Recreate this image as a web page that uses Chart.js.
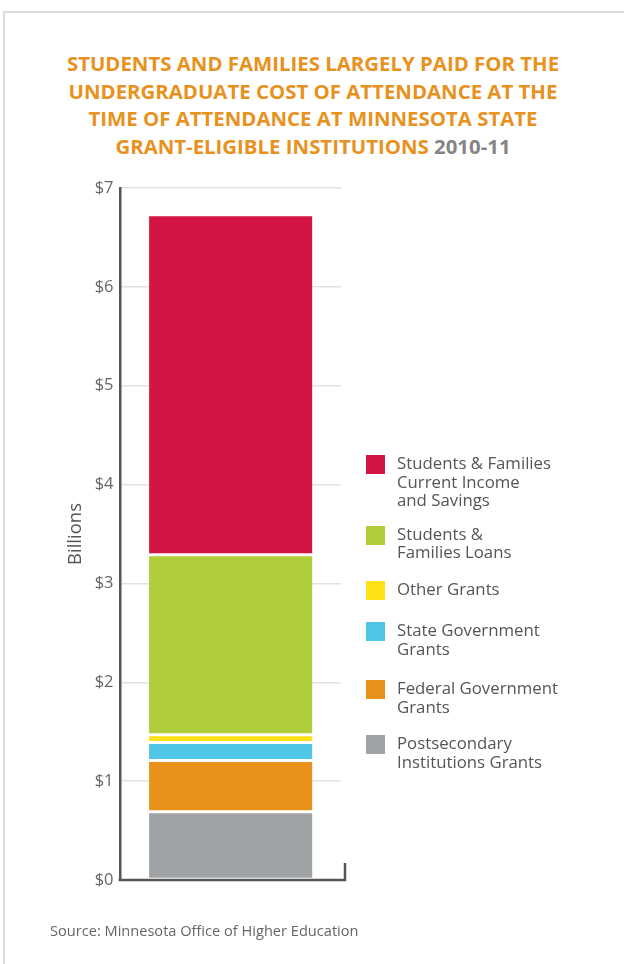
<!DOCTYPE html>
<html>
<head>
<meta charset="utf-8">
<script src="https://cdn.jsdelivr.net/npm/chart.js@4/dist/chart.umd.min.js"></script>
<style>
html,body{margin:0;padding:0;background:#fff;}
#page{position:relative;width:624px;height:964px;overflow:hidden;font-family:"Open Sans",sans-serif;}
#frame{position:absolute;left:3px;top:11px;width:700px;height:1000px;border-left:2px solid #dcdcdc;border-top:2px solid #dcdcdc;}
#title{position:absolute;left:0;width:626px;top:50px;text-align:center;font-weight:700;font-size:20.4px;line-height:27.6px;color:#E8921E;}
#title .yr{color:#858585;}
#chartWrap{position:absolute;left:0;top:0;width:624px;height:964px;}
#legend{position:absolute;left:366px;top:455px;display:flex;flex-direction:column;}
.item{display:flex;align-items:flex-start;}
.item:nth-child(1){margin-bottom:16px;}
.item:nth-child(2){margin-bottom:19px;}
.item:nth-child(3){margin-bottom:22px;}
.item:nth-child(4){margin-bottom:22px;}
.item:nth-child(5){margin-bottom:19px;}
.sw{width:19px;height:19px;margin-right:12px;flex:none;}
.lbl{font-size:16.8px;line-height:18.6px;color:#555;margin-top:-1px;}
#source{position:absolute;left:50px;top:920px;font-size:14.6px;color:#666;}
</style>
</head>
<body>
<div id="page">
  <div id="frame"></div>
  <div id="title">STUDENTS AND FAMILIES LARGELY PAID FOR THE<br>UNDERGRADUATE COST OF ATTENDANCE AT THE<br>TIME OF ATTENDANCE AT MINNESOTA STATE<br>GRANT-ELIGIBLE INSTITUTIONS <span class="yr">2010-11</span></div>
  <div id="chartWrap"><canvas id="c" width="624" height="964"></canvas></div>
  <div id="legend"></div>
  <div id="source">Source: Minnesota Office of Higher Education</div>
</div>
<script>
// ---- data (billions of dollars), stacked bottom to top ----
const categories = ['2010-11'];
const seriesNames = [
  ['Postsecondary', 'Institutions Grants'],
  ['Federal Government', 'Grants'],
  ['State Government', 'Grants'],
  ['Other Grants'],
  ['Students &', 'Families Loans'],
  ['Students & Families', 'Current Income', 'and Savings']
];
const postsecondaryGrants = [0.69];
const federalGrants = [0.52];
const stateGrants = [0.18];
const otherGrants = [0.08];
const familyLoans = [1.82];
const familyIncomeSavings = [3.44];
const yTickValues = [0, 1, 2, 3, 4, 5, 6, 7];

const seriesValues = [postsecondaryGrants, federalGrants, stateGrants, otherGrants, familyLoans, familyIncomeSavings];
const seriesColors = ['#A0A3A6', '#E8921C', '#4FC6E8', '#FFE114', '#AFCD3A', '#D31545'];

const datasets = seriesValues.map((vals, i) => ({
  label: seriesNames[i].join(' '),
  data: vals,
  backgroundColor: seriesColors[i],
  borderColor: '#ffffff',
  borderWidth: {top: 1.5, bottom: 1.5, left: 0, right: 0},
  borderSkipped: false,
  categoryPercentage: 1,
  barPercentage: 0.741
}));

const axisPlugin = {
  id: 'axisBracket',
  afterDatasetsDraw(chart) {
    const {ctx, chartArea: a} = chart;
    const y0 = chart.scales.y.getPixelForValue(0);
    ctx.save();
    ctx.strokeStyle = '#555';
    ctx.lineWidth = 2.5;
    ctx.lineCap = 'butt';
    ctx.beginPath();
    ctx.moveTo(a.left - 2, y0);
    ctx.lineTo(a.right + 4, y0);
    ctx.lineTo(a.right + 4, y0 - 17);
    ctx.stroke();
    ctx.restore();
  }
};

new Chart(document.getElementById('c'), {
  type: 'bar',
  data: {labels: categories, datasets},
  options: {
    responsive: false,
    animation: false,
    layout: {padding: {left: 0, top: 188, right: 283, bottom: 84}},
    plugins: {legend: {display: false}, tooltip: {enabled: false}, title: {display: false}},
    scales: {
      x: {stacked: true, display: false},
      y: {
        stacked: true,
        min: 0,
        max: 7,
        afterFit(scale) { scale.width = 120.5; },
        afterBuildTicks(scale) { scale.ticks = yTickValues.map(v => ({value: v})); },
        ticks: {
          padding: 7,
          color: '#666',
          font: {family: '"Open Sans", sans-serif', size: 16.5},
          callback: v => '$' + v
        },
        grid: {color: '#e2e2e2', lineWidth: 1.5, drawTicks: false},
        border: {color: '#555', width: 2.5},
        title: {
          display: true,
          text: 'Billions',
          color: '#555',
          font: {family: '"Open Sans", sans-serif', size: 18.5},
          padding: {top: 65, bottom: 0}
        }
      }
    }
  },
  plugins: [axisPlugin]
});

// ---- HTML legend, top of stack first ----
const legend = document.getElementById('legend');
for (let i = seriesNames.length - 1; i >= 0; i--) {
  const item = document.createElement('div');
  item.className = 'item';
  const sw = document.createElement('div');
  sw.className = 'sw';
  sw.style.background = seriesColors[i];
  const lbl = document.createElement('div');
  lbl.className = 'lbl';
  lbl.innerHTML = seriesNames[i].map(s => s.replace(/&/g, '&amp;')).join('<br>');
  item.appendChild(sw);
  item.appendChild(lbl);
  legend.appendChild(item);
}
</script>
</body>
</html>
